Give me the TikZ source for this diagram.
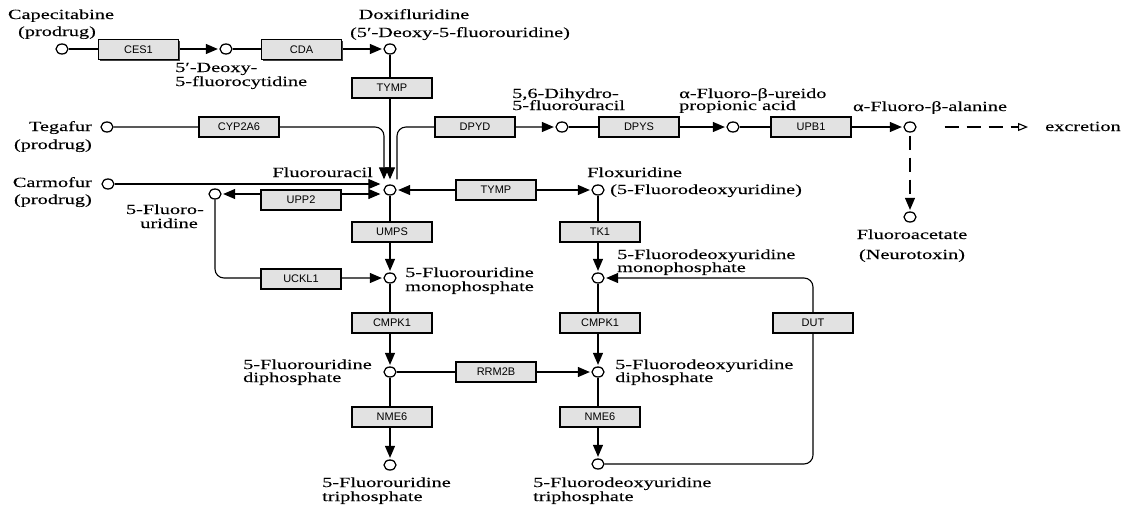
\documentclass[tikz,border=0pt]{standalone}
\usepackage{fontspec}
\setmainfont{Liberation Serif}[FakeStretch=1.45,FakeBold=0.12]
\newfontfamily\genefont{Liberation Sans}
\usetikzlibrary{arrows.meta,shapes.geometric,shadows}
\pgfdeclarelayer{background}
\pgfsetlayers{background,main}
\definecolor{boxgray}{RGB}{226,226,226}
\begin{document}
\begin{tikzpicture}[x=1pt,y=-1pt,
  cpd/.style={ellipse, draw, line width=1.3pt, fill=white, minimum width=12pt, minimum height=10pt, inner sep=0pt},
  gene/.style={rectangle, draw, line width=1.1pt, fill=boxgray, minimum width=80pt, minimum height=20pt, inner sep=0pt,
    font=\genefont\fontsize{11}{12}\selectfont,
    general shadow={fill=black!75, shadow xshift=1pt, shadow yshift=-1pt}},
  lbl/.style={inner sep=0pt, font=\fontsize{14}{14}\selectfont},
  conn/.style={line width=1.1pt},
  arr/.style={conn, -{Triangle[length=12pt,width=10pt]}, shorten >=1.5pt},
  arrboth/.style={conn, {Triangle[length=12pt,width=10pt]}-{Triangle[length=12pt,width=10pt]}, shorten >=1.5pt, shorten <=1.5pt},
  dsh/.style={conn, dash pattern=on 14pt off 8pt}
]
\useasboundingbox (0,0) rectangle (1140,507);

% compounds
\node[cpd] (cape)  at (62,49) {};
\node[cpd] (dfcr)  at (226,49) {};
\node[cpd] (doxi)  at (390,49) {};
\node[cpd] (teg)   at (107,127) {};
\node[cpd] (carm)  at (108,184) {};
\node[cpd] (fu)    at (390,190) {};
\node[cpd] (fur)   at (215,194) {};
\node[cpd] (dhfu)  at (562,127) {};
\node[cpd] (fupa)  at (733,127) {};
\node[cpd] (fbal)  at (910,127) {};
\node[cpd] (facet) at (910,217) {};
\node[cpd] (flox)  at (598,190) {};
\node[cpd] (fump)  at (390,278) {};
\node[cpd] (fdump) at (598,278) {};
\node[cpd] (fudp)  at (390,372) {};
\node[cpd] (fdudp) at (598,372) {};
\node[cpd] (futp)  at (390,465) {};
\node[cpd] (fdutp) at (598,464) {};

% enzymes
\node[gene] (ces1)  at (138.5,49.5) {CES1};
\node[gene] (cda)   at (301.5,49.5) {CDA};
\node[gene] (tympv) at (392,88) {TYMP};
\node[gene] (cyp)   at (239,127) {CYP2A6};
\node[gene] (dpyd)  at (475,127) {DPYD};
\node[gene] (dpys)  at (639,127) {DPYS};
\node[gene] (upb1)  at (811,127) {UPB1};
\node[gene] (tymph) at (496,190) {TYMP};
\node[gene] (upp2)  at (301,200) {UPP2};
\node[gene] (umps)  at (392,232) {UMPS};
\node[gene] (tk1)   at (600,232) {TK1};
\node[gene] (uckl1) at (301,279) {UCKL1};
\node[gene] (cmpkl) at (392,323) {CMPK1};
\node[gene] (cmpkr) at (600,323) {CMPK1};
\node[gene] (dut)   at (813,323) {DUT};
\node[gene] (rrm2b) at (496,372) {RRM2B};
\node[gene] (nme6l) at (392,417) {NME6};
\node[gene] (nme6r) at (600,417) {NME6};

% labels
\node[lbl, anchor=base] (l1a) at (61,19) {Capecitabine};
\node[lbl, anchor=base] (l1b) at (57,36) {(prodrug)};
\node[lbl, anchor=base west] (l2a) at (175,72) {5′-Deoxy-};
\node[lbl, anchor=base west] (l2b) at (175,86) {5-fluorocytidine};
\node[lbl, anchor=base] (l3a) at (414,19) {Doxifluridine};
\node[lbl, anchor=base] (l3b) at (460,37) {(5′-Deoxy-5-fluorouridine)};
\node[lbl, anchor=base east] (l4a) at (92,131) {Tegafur};
\node[lbl, anchor=base east] (l4b) at (92,149) {(prodrug)};
\node[lbl, anchor=base east] (l5a) at (92,187) {Carmofur};
\node[lbl, anchor=base east] (l5b) at (92,204) {(prodrug)};
\node[lbl, anchor=base east] (l6a) at (204,214) {5-Fluoro-};
\node[lbl, anchor=base east] (l6b) at (198,228) {uridine};
\node[lbl, anchor=base east] (l7) at (373,177) {Fluorouracil};
\node[lbl, anchor=base west] (l8a) at (512,98) {5,6-Dihydro-};
\node[lbl, anchor=base west] (l8b) at (512,110) {5-fluorouracil};
\node[lbl, anchor=base west] (l9a) at (679,98) {α-Fluoro-β-ureido};
\node[lbl, anchor=base west] (l9b) at (679,110) {propionic acid};
\node[lbl, anchor=base] (l10) at (930,111) {α-Fluoro-β-alanine};
\node[lbl, anchor=base west] (excr) at (1045,131) {excretion};
\node[lbl, anchor=base] (l11a) at (912,239) {Fluoroacetate};
\node[lbl, anchor=base] (l11b) at (912,259) {(Neurotoxin)};
\node[lbl, anchor=base west] (l12a) at (587,177) {Floxuridine};
\node[lbl, anchor=base west] (l12b) at (610,194) {(5-Fluorodeoxyuridine)};
\node[lbl, anchor=base west] (l13a) at (405,277) {5-Fluorouridine};
\node[lbl, anchor=base west] (l13b) at (405,291) {monophosphate};
\node[lbl, anchor=base west] (l14a) at (617,259) {5-Fluorodeoxyuridine};
\node[lbl, anchor=base west] (l14b) at (617,272) {monophosphate};
\node[lbl, anchor=base west] (l15a) at (243,369) {5-Fluorouridine};
\node[lbl, anchor=base west] (l15b) at (243,382) {diphosphate};
\node[lbl, anchor=base west] (l16a) at (615,369) {5-Fluorodeoxyuridine};
\node[lbl, anchor=base west] (l16b) at (615,382) {diphosphate};
\node[lbl, anchor=base west] (l17a) at (322,487) {5-Fluorouridine};
\node[lbl, anchor=base west] (l17b) at (322,501) {triphosphate};
\node[lbl, anchor=base west] (l18a) at (533,487) {5-Fluorodeoxyuridine};
\node[lbl, anchor=base west] (l18b) at (533,501) {triphosphate};

% connectors
\begin{pgfonlayer}{background}
\draw[arr] (cape) -- (dfcr);
\draw[arr] (dfcr) -- (doxi);
\draw[arr, shorten >=5pt] (doxi) -- (fu);
\draw[arr, shorten >=5pt, rounded corners=9pt] (teg) -| ([xshift=-6pt]fu.north);
\draw[arr, shorten <=5pt, rounded corners=9pt] ([xshift=7pt]fu.north) |- (dhfu);
\draw[arr, shorten >=3pt] (carm) -- (carm -| fu.west);
\draw[arrboth, shorten >=3pt] (fur) -- (fur -| fu.west);
\draw[arr, rounded corners=9pt] (fur) |- (fump);
\draw[arrboth] (fu) -- (flox);
\draw[arr] (fu) -- (fump);
\draw[arr] (fump) -- (fudp);
\draw[arr] (fudp) -- (futp);
\draw[arr] (flox) -- (fdump);
\draw[arr] (fdump) -- (fdudp);
\draw[arr] (fdudp) -- (fdutp);
\draw[arr] (fudp) -- (fdudp);
\draw[arr, rounded corners=9pt] (fdutp) -| (dut) |- (fdump);
\draw[arr] (dhfu) -- (fupa);
\draw[arr] (fupa) -- (fbal);
\draw[dsh, -{Triangle[open, length=10pt, width=8pt]}, shorten <=28pt, shorten >=17pt] (fbal) -- (fbal -| excr.west);
\draw[dsh, -{Triangle[length=12pt,width=10pt]}, shorten <=3pt, shorten >=1.5pt] (fbal) -- (facet);
\end{pgfonlayer}
\end{tikzpicture}
\end{document}
